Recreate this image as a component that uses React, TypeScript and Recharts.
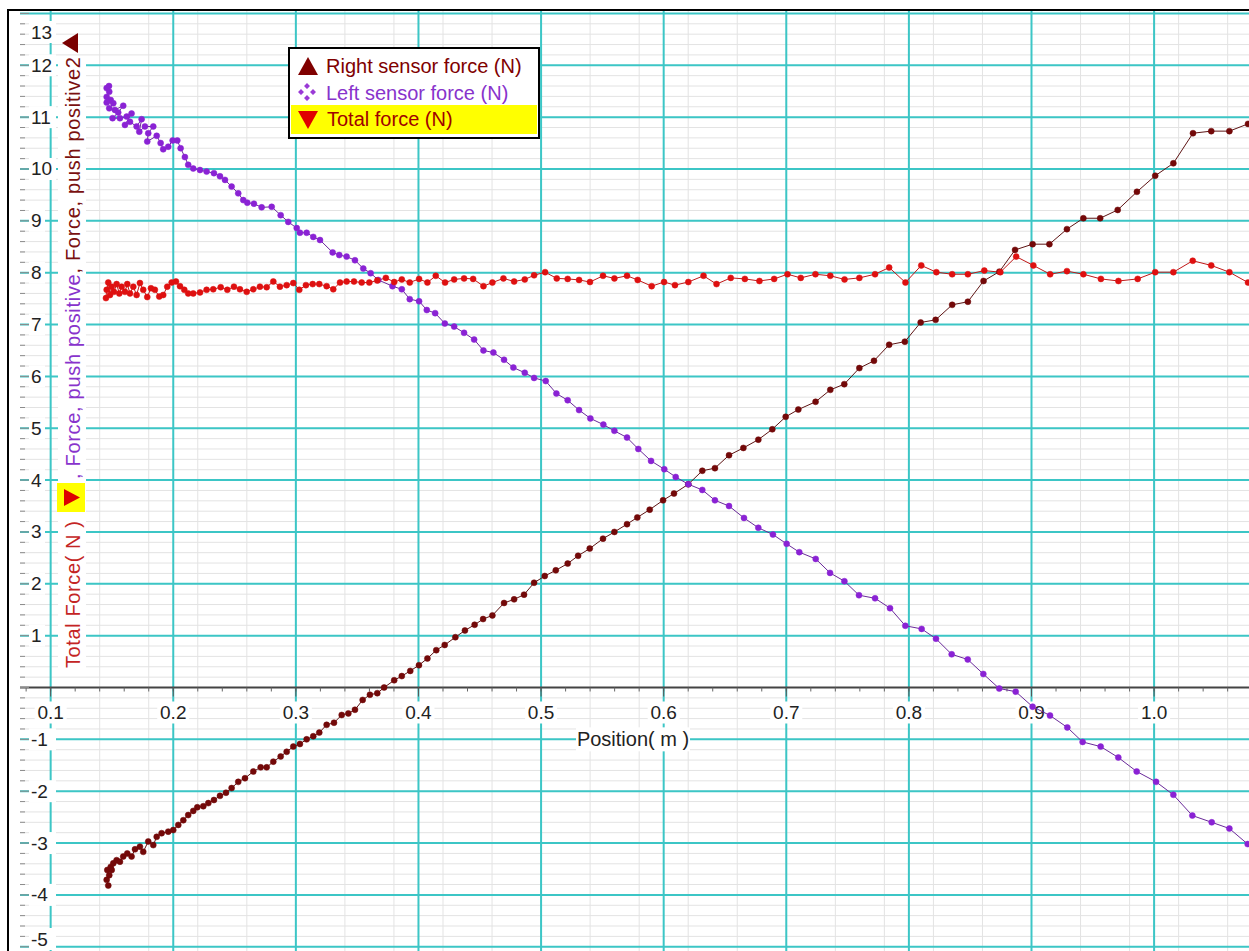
import {
  CartesianGrid,
  Line,
  LineChart,
  ReferenceDot,
  ReferenceLine,
  XAxis,
  YAxis,
} from "recharts"

const FONT = '"Liberation Sans", Arial, Helvetica, sans-serif'

// position (m), force (N) pairs
const rightSensor = [
  [0.147, -3.82], [0.1457, -3.71], [0.1478, -3.62], [0.1462, -3.52], [0.149, -3.46],
  [0.1498, -3.52], [0.1511, -3.39], [0.1538, -3.33], [0.1565, -3.36], [0.1592, -3.26],
  [0.1625, -3.2], [0.166, -3.26], [0.1688, -3.12], [0.1728, -3.07], [0.1755, -3.17],
  [0.1796, -2.97], [0.1837, -3.04], [0.1865, -2.88], [0.1905, -2.81], [0.1959, -2.78],
  [0.2, -2.75], [0.2041, -2.65], [0.2082, -2.56], [0.2122, -2.46], [0.2163, -2.38],
  [0.2196, -2.31], [0.2245, -2.29], [0.2286, -2.23], [0.2332, -2.17], [0.2381, -2.09],
  [0.243, -2.03], [0.2476, -1.94], [0.253, -1.82], [0.2585, -1.75], [0.2653, -1.62],
  [0.2713, -1.54], [0.2762, -1.54], [0.2816, -1.43], [0.2876, -1.33], [0.2925, -1.24],
  [0.2979, -1.14], [0.3033, -1.09], [0.3088, -1.0], [0.3142, -0.94], [0.3191, -0.87],
  [0.3251, -0.72], [0.3311, -0.68], [0.3374, -0.53], [0.3428, -0.5], [0.3482, -0.43],
  [0.3545, -0.24], [0.3604, -0.14], [0.3664, -0.11], [0.372, 0.0], [0.3802, 0.14],
  [0.3864, 0.22], [0.3933, 0.32], [0.4004, 0.43], [0.4073, 0.56], [0.4145, 0.72],
  [0.4214, 0.82], [0.4301, 0.97], [0.4379, 1.1], [0.4458, 1.21], [0.4527, 1.32],
  [0.4603, 1.39], [0.4698, 1.63], [0.478, 1.7], [0.4861, 1.79], [0.4943, 2.02],
  [0.503, 2.15], [0.512, 2.26], [0.5217, 2.39], [0.5302, 2.54], [0.5397, 2.68],
  [0.5505, 2.87], [0.5598, 3.0], [0.5701, 3.15], [0.5785, 3.28], [0.5886, 3.43],
  [0.5995, 3.61], [0.6084, 3.74], [0.6201, 3.92], [0.6315, 4.18], [0.6418, 4.23],
  [0.6533, 4.48], [0.665, 4.62], [0.6772, 4.78], [0.6886, 4.98], [0.6995, 5.22],
  [0.7098, 5.36], [0.7239, 5.51], [0.7359, 5.74], [0.7473, 5.85], [0.7596, 6.16],
  [0.7715, 6.3], [0.7839, 6.61], [0.7967, 6.67], [0.8096, 7.04], [0.8218, 7.09],
  [0.8353, 7.38], [0.8481, 7.44], [0.8609, 7.84], [0.8738, 8.02], [0.8866, 8.44],
  [0.9009, 8.55], [0.9146, 8.55], [0.9289, 8.84], [0.9423, 9.05], [0.956, 9.05],
  [0.9703, 9.21], [0.986, 9.56], [1.0009, 9.87], [1.0157, 10.11], [1.0317, 10.69],
  [1.0466, 10.73], [1.0614, 10.73], [1.0766, 10.87],
]

const leftSensor = [
  [0.1476, 11.6], [0.1457, 11.56], [0.1478, 11.49], [0.1457, 11.39], [0.149, 11.33],
  [0.1457, 11.28], [0.1511, 11.27], [0.1478, 11.17], [0.1524, 11.14], [0.1592, 11.22],
  [0.1551, 11.09], [0.1505, 10.98], [0.1565, 10.98], [0.162, 11.01], [0.166, 11.07],
  [0.1606, 10.85], [0.1647, 10.91], [0.1701, 10.82], [0.1742, 10.96], [0.1723, 10.72],
  [0.1769, 10.82], [0.1837, 10.82], [0.1796, 10.69], [0.1788, 10.53], [0.1865, 10.64],
  [0.1897, 10.5], [0.1918, 10.38], [0.1959, 10.43], [0.1995, 10.55], [0.2033, 10.55],
  [0.206, 10.4], [0.2095, 10.23], [0.2122, 10.08], [0.2163, 10.01], [0.2218, 9.98],
  [0.2272, 9.95], [0.2332, 9.92], [0.2381, 9.86], [0.2422, 9.79], [0.2476, 9.66],
  [0.253, 9.53], [0.2571, 9.4], [0.2604, 9.35], [0.2658, 9.33], [0.2721, 9.26],
  [0.2803, 9.27], [0.2876, 9.11], [0.2938, 8.98], [0.3007, 8.86], [0.3033, 8.77],
  [0.3088, 8.77], [0.3142, 8.69], [0.3197, 8.63], [0.33, 8.39], [0.3354, 8.34],
  [0.3414, 8.31], [0.3482, 8.24], [0.355, 8.08], [0.361, 7.99], [0.3672, 7.86],
  [0.3788, 7.74], [0.3864, 7.68], [0.3929, 7.49], [0.4005, 7.45], [0.4068, 7.28],
  [0.4136, 7.22], [0.4215, 7.02], [0.4291, 6.96], [0.4372, 6.84], [0.4454, 6.71],
  [0.453, 6.5], [0.4611, 6.46], [0.4698, 6.32], [0.4774, 6.17], [0.4867, 6.07],
  [0.4943, 5.97], [0.5038, 5.91], [0.5125, 5.67], [0.5217, 5.54], [0.531, 5.35],
  [0.5402, 5.19], [0.5508, 5.07], [0.5598, 4.95], [0.5701, 4.82], [0.5793, 4.6],
  [0.5897, 4.37], [0.6005, 4.21], [0.6098, 4.06], [0.6201, 3.92], [0.6315, 3.81],
  [0.6418, 3.61], [0.6533, 3.5], [0.6655, 3.27], [0.6772, 3.08], [0.6891, 2.95],
  [0.7003, 2.77], [0.7106, 2.61], [0.724, 2.48], [0.7357, 2.21], [0.7474, 2.05],
  [0.7593, 1.78], [0.7724, 1.72], [0.7846, 1.53], [0.7971, 1.19], [0.8104, 1.13],
  [0.8221, 0.94], [0.8349, 0.64], [0.848, 0.54], [0.8607, 0.26], [0.8737, -0.02],
  [0.8871, -0.08], [0.9009, -0.37], [0.9151, -0.54], [0.9292, -0.77], [0.9417, -1.05],
  [0.9564, -1.14], [0.9708, -1.35], [0.9858, -1.62], [1.0016, -1.82], [1.0157, -2.07],
  [1.0312, -2.47], [1.047, -2.6], [1.0614, -2.72], [1.0763, -3.02],
]

const totalForce = [
  [0.1451, 7.51], [0.1457, 7.67], [0.147, 7.81], [0.1484, 7.57], [0.1498, 7.73],
  [0.1516, 7.63], [0.1538, 7.78], [0.156, 7.6], [0.1579, 7.73], [0.1606, 7.63],
  [0.1625, 7.78], [0.1647, 7.6], [0.1674, 7.73], [0.1701, 7.57], [0.1728, 7.8],
  [0.1755, 7.67], [0.1788, 7.53], [0.1818, 7.7], [0.185, 7.67], [0.1886, 7.54],
  [0.1918, 7.57], [0.1951, 7.73], [0.1987, 7.81], [0.2022, 7.83], [0.2055, 7.74],
  [0.209, 7.67], [0.2122, 7.6], [0.2163, 7.6], [0.2218, 7.62], [0.2272, 7.67],
  [0.2326, 7.68], [0.2387, 7.72], [0.2441, 7.67], [0.2495, 7.73], [0.2544, 7.68],
  [0.2599, 7.63], [0.2653, 7.68], [0.2707, 7.73], [0.2762, 7.72], [0.2816, 7.83],
  [0.287, 7.73], [0.2925, 7.76], [0.2979, 7.8], [0.3028, 7.67], [0.3082, 7.76],
  [0.3137, 7.78], [0.3191, 7.78], [0.3251, 7.74], [0.3305, 7.68], [0.336, 7.81],
  [0.3414, 7.83], [0.3474, 7.83], [0.3537, 7.81], [0.3599, 7.81], [0.3664, 7.85],
  [0.3734, 7.9], [0.3802, 7.82], [0.3864, 7.87], [0.3929, 7.81], [0.4005, 7.88],
  [0.4073, 7.81], [0.4141, 7.94], [0.4217, 7.81], [0.4291, 7.87], [0.4372, 7.89],
  [0.4446, 7.88], [0.453, 7.74], [0.4603, 7.81], [0.4693, 7.89], [0.478, 7.83],
  [0.4867, 7.87], [0.4943, 7.95], [0.5033, 8.01], [0.5128, 7.89], [0.5217, 7.88],
  [0.531, 7.86], [0.5399, 7.82], [0.5505, 7.94], [0.5598, 7.89], [0.5701, 7.94],
  [0.5788, 7.86], [0.5902, 7.74], [0.6003, 7.82], [0.6092, 7.76], [0.6201, 7.82],
  [0.6325, 7.94], [0.6431, 7.78], [0.6547, 7.9], [0.6662, 7.88], [0.6781, 7.84],
  [0.6901, 7.88], [0.701, 7.97], [0.7118, 7.9], [0.7238, 7.97], [0.7359, 7.94],
  [0.7475, 7.87], [0.7596, 7.9], [0.7724, 7.97], [0.7839, 8.1], [0.7972, 7.81],
  [0.8101, 8.14], [0.8224, 8.01], [0.8353, 7.97], [0.8481, 7.97], [0.8615, 8.04],
  [0.8746, 8.01], [0.8875, 8.31], [0.9015, 8.14], [0.9152, 7.97], [0.9289, 8.03],
  [0.9423, 7.97], [0.9566, 7.88], [0.9709, 7.84], [0.9866, 7.88], [1.0009, 8.01],
  [1.0157, 8.01], [1.0315, 8.23], [1.0466, 8.14], [1.0614, 8.01], [1.0766, 7.81],
]

const xMajor = [0.1, 0.2, 0.3, 0.4, 0.5, 0.6, 0.7, 0.8, 0.9, 1.0]
const yMajor = [-5, -4, -3, -2, -1, 1, 2, 3, 4, 5, 6, 7, 8, 9, 10, 11, 12, 13]

// minor grid every 0.02 m and 0.2 N
const xMinor: number[] = []
for (let i = 4; i <= 53; i++) xMinor.push(i / 50)
const yMinor: number[] = []
for (let i = -25; i <= 65; i++) yMinor.push(i / 5)

const X_DOMAIN = [0.075, 1.0774]
const Y_DOMAIN = [-5.082, 13.047]

const RIGHT = "#730909"
const LEFT = "#8a22d4"
const TOTAL = "#de1010"

const toPoints = (pairs: number[][]) => pairs.map(([x, y]) => ({ x, y }))

function YTick({ y, payload }: any) {
  const v = payload.value as number
  const major = Math.abs(v - Math.round(v)) < 1e-6
  const label = major && Math.round(v) !== 0 ? String(Math.round(v)) : null
  const ty = Math.min(Math.max(y, 32), 939)
  return (
    <g>
      <line x1={20} x2={major ? 29 : 25} y1={y} y2={y} stroke="#8c8c8c" />
      {label && (
        <>
          <rect x={29} y={ty - 11} width={label.length * 11 + 5} height={22} fill="#fff" />
          <text x={31} y={ty} dominantBaseline="central" fontSize={19} fill="#222" fontFamily={FONT}>
            {label}
          </text>
        </>
      )}
    </g>
  )
}

function XMinorTick({ cx, cy }: any) {
  return <line x1={cx} x2={cx} y1={cy} y2={cy + 4} stroke="#666" />
}

function XMajorTick({ cx, cy, value }: any) {
  return (
    <g>
      <line x1={cx} x2={cx} y1={cy} y2={cy + 9} stroke="#555" />
      <rect x={cx - 16} y={cy + 14} width={32} height={22} fill="#fff" />
      <text x={cx} y={cy + 25} textAnchor="middle" dominantBaseline="central" fontSize={19} fill="#222" fontFamily={FONT}>
        {value.toFixed(1)}
      </text>
    </g>
  )
}

function PositionLabel({ cx, cy }: any) {
  return (
    <g>
      <rect x={cx - 57} y={cy - 12} width={114} height={24} fill="#fff" />
      <text x={cx} y={cy} textAnchor="middle" dominantBaseline="central" fontSize={20} fill="#222" fontFamily={FONT}>
        Position( m )
      </text>
    </g>
  )
}

function AxisTitle() {
  return (
    <g fontFamily={FONT} fontSize={20}>
      <rect x={58} y={56} width={28} height={616} fill="#fff" />
      <text
        transform="translate(73,668) rotate(-90)"
        dominantBaseline="central"
        fill="#c42424"
        textLength={147}
        lengthAdjust="spacing"
      >
        Total Force( N )
      </text>
      <rect x={57} y={483} width={28} height={29} fill="#ffff00" />
      <path d="M64 489 L80 497.5 L64 506 Z" fill="#dd0000" />
      <text
        transform="translate(73,479) rotate(-90)"
        dominantBaseline="central"
        textLength={422}
        lengthAdjust="spacing"
      >
        <tspan fill="#8833cc">, Force, push positive</tspan>
        <tspan fill="#7a1010">, Force, push positive2</tspan>
      </text>
      <path d="M62 43 L78 33 L78 53 Z" fill="#7a0000" />
    </g>
  )
}

const seriesNames = ["Right sensor force (N)", "Left sensor force (N)", "Total force (N)"]

function LegendBox() {
  const rowStyle = {
    position: "absolute" as const,
    left: 0,
    right: 0,
    height: 27,
    lineHeight: "27px",
    paddingLeft: 36,
    whiteSpace: "nowrap" as const,
  }
  return (
    <div
      style={{
        position: "absolute",
        left: 288,
        top: 47,
        width: 252,
        height: 92,
        boxSizing: "border-box",
        border: "2px solid #000",
        background: "#fff",
        fontFamily: FONT,
        fontSize: 20,
      }}
    >
      <div style={{ ...rowStyle, top: 4, color: "#800000" }}>
        <svg width={22} height={20} style={{ position: "absolute", left: 8, top: 3 }}>
          <path d="M10 1 L20 19 L0 19 Z" fill="#800000" />
        </svg>
        {seriesNames[0]}
      </div>
      <div style={{ ...rowStyle, top: 31, color: "#8833cc" }}>
        <svg width={22} height={20} style={{ position: "absolute", left: 8, top: 3 }}>
          <path d="M9 0 L12 3 L9 6 L6 3 Z M3 6 L6 9 L3 12 L0 9 Z M15 6 L18 9 L15 12 L12 9 Z M9 12 L12 15 L9 18 L6 15 Z" fill="#9a3ad6" />
        </svg>
        {seriesNames[1]}
      </div>
      <div style={{ ...rowStyle, top: 56, height: 29, lineHeight: "29px", left: 1, right: 1, background: "#ffff00", color: "#a00000" }}>
        <svg width={22} height={20} style={{ position: "absolute", left: 7, top: 5 }}>
          <path d="M0 1 L20 1 L10 19 Z" fill="#e00000" />
        </svg>
        {seriesNames[2]}
      </div>
    </div>
  )
}

export default function App() {
  return (
    <div
      style={{
        position: "absolute",
        left: 0,
        top: 0,
        width: 1249,
        height: 951,
        overflow: "hidden",
        background: "#fff",
        fontFamily: FONT,
      }}
    >
      <LineChart width={1249} height={951} margin={{ top: 11, right: 0, bottom: 0, left: 20 }}>
        <CartesianGrid stroke="#e3e3e3" horizontalValues={yMinor} verticalValues={xMinor} />
        <CartesianGrid stroke="#3cc6c6" strokeWidth={2} horizontalValues={yMajor} verticalValues={xMajor} />
        <XAxis type="number" dataKey="x" domain={X_DOMAIN} allowDataOverflow hide />
        <YAxis
          type="number"
          domain={Y_DOMAIN}
          allowDataOverflow
          mirror
          ticks={yMinor}
          interval={0}
          axisLine={false}
          tickLine={false}
          tick={<YTick />}
          label={{ content: () => <AxisTitle /> }}
        />
        <ReferenceLine y={0} stroke="#444" strokeWidth={2} zIndex={-50} />
        {xMinor.map((v) => (
          <ReferenceDot key={`minor-${v}`} x={v} y={0} r={0} zIndex={-50} shape={(p: any) => <XMinorTick {...p} />} />
        ))}
        {xMajor.map((v) => (
          <ReferenceDot key={`major-${v}`} x={v} y={0} r={0} zIndex={-50} shape={(p: any) => <XMajorTick {...p} value={v} />} />
        ))}
        <ReferenceDot x={0.575} y={-1} r={0} zIndex={-50} shape={(p: any) => <PositionLabel {...p} />} />
        <Line
          data={toPoints(rightSensor)}
          dataKey="y"
          name={seriesNames[0]}
          type="linear"
          stroke="#5e1414"
          strokeWidth={1}
          dot={{ r: 3, fill: RIGHT, stroke: RIGHT, strokeWidth: 0.5 }}
          activeDot={false}
          isAnimationActive={false}
        />
        <Line
          data={toPoints(leftSensor)}
          dataKey="y"
          name={seriesNames[1]}
          type="linear"
          stroke="#6a2a9a"
          strokeWidth={1}
          dot={{ r: 3, fill: LEFT, stroke: LEFT, strokeWidth: 0.5 }}
          activeDot={false}
          isAnimationActive={false}
        />
        <Line
          data={toPoints(totalForce)}
          dataKey="y"
          name={seriesNames[2]}
          type="linear"
          stroke="#c01818"
          strokeWidth={1}
          dot={{ r: 3, fill: TOTAL, stroke: TOTAL, strokeWidth: 0.5 }}
          activeDot={false}
          isAnimationActive={false}
        />
      </LineChart>
      <div
        style={{
          position: "absolute",
          left: 7,
          top: 9,
          right: 0,
          bottom: 0,
          borderTop: "2px solid #000",
          borderLeft: "2px solid #000",
          pointerEvents: "none",
        }}
      />
      <LegendBox />
    </div>
  )
}
